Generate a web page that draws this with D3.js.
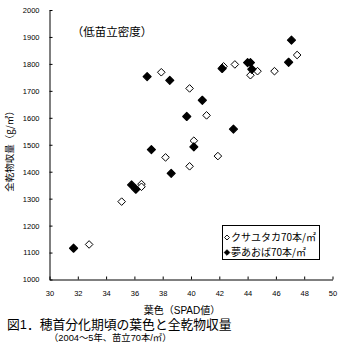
<!DOCTYPE html>
<html><head><meta charset="utf-8">
<script src="https://cdn.jsdelivr.net/npm/d3@7/dist/d3.min.js"></script>
<style>
body{margin:0;background:#fff;}
svg{display:block;}
text{fill:#000;}
</style></head>
<body>
<svg id="c" width="350" height="354"></svg>
<script>
const seriesNames = ["クサユタカ70本/㎡", "夢あおば70本/㎡"];
const kusaX = [32.8, 35.1, 36.5, 36.5, 38.2, 37.9, 39.9, 40.2, 39.9, 41.1, 41.9, 42.3, 43.1, 44.2, 44.7, 45.9, 47.5];
const kusaY = [1130, 1289, 1354, 1344, 1453, 1769, 1709, 1515, 1420, 1609, 1458, 1791, 1798, 1758, 1773, 1773, 1833];
const yumeX = [31.7, 35.8, 36.1, 37.2, 38.6, 36.9, 38.5, 39.7, 40.2, 40.8, 42.2, 43.0, 44.0, 44.2, 44.3, 46.9, 47.1];
const yumeY = [1116, 1351, 1335, 1482, 1394, 1753, 1739, 1605, 1492, 1665, 1783, 1558, 1805, 1805, 1780, 1806, 1888];
const xTicks = [30, 32, 34, 36, 38, 40, 42, 44, 46, 48, 50];
const yTicks = [1000, 1100, 1200, 1300, 1400, 1500, 1600, 1700, 1800, 1900, 2000];

const svg = d3.select("#c");
const x = d3.scaleLinear().domain([30, 50]).range([49.5, 332.5]);
const y = d3.scaleLinear().domain([1000, 2000]).range([279.5, 10]);
const numFont = "'Liberation Sans', Arial, sans-serif";
const jpFont = "'Noto Sans CJK JP', sans-serif";
const mixFont = "'Liberation Sans', 'Noto Sans CJK JP', sans-serif";

const gx = svg.append("g").attr("transform", "translate(0,279.5)")
  .call(d3.axisBottom(x).tickValues(xTicks).tickSizeInner(-3).tickSizeOuter(0).tickPadding(11).tickFormat(d3.format("d")));
const gy = svg.append("g").attr("transform", "translate(49.5,0)")
  .call(d3.axisLeft(y).tickValues(yTicks).tickSizeInner(-3).tickSizeOuter(0).tickPadding(10).tickFormat(d3.format("d")));
[gx, gy].forEach(g => {
  g.select(".domain").attr("stroke", "#000").attr("stroke-width", 1);
  g.selectAll(".tick line").attr("stroke", "#000");
  g.selectAll(".tick text").attr("font-family", numFont).attr("font-size", 7.5).attr("fill", "#000");
});

const diamond = r => `M0,${-r}L${r},0L0,${r}L${-r},0Z`;

const kusa = kusaX.map((v, i) => [v, kusaY[i]]);
const yume = yumeX.map((v, i) => [v, yumeY[i]]);

svg.append("g").selectAll("path").data(kusa).join("path")
  .attr("transform", d => `translate(${x(d[0])},${y(d[1])})`)
  .attr("d", diamond(3.8)).attr("fill", "#fff").attr("stroke", "#000").attr("stroke-width", 1)
  .attr("stroke-linejoin", "round");
svg.append("g").selectAll("path").data(yume).join("path")
  .attr("transform", d => `translate(${x(d[0])},${y(d[1])})`)
  .attr("d", diamond(4)).attr("fill", "#000").attr("stroke", "#000").attr("stroke-width", 1.2)
  .attr("stroke-linejoin", "round");

// annotation
svg.append("text").attr("x", 112).attr("y", 32).attr("dy", "0.35em").attr("text-anchor", "middle")
  .attr("font-family", jpFont).attr("font-size", 11.5).text("（低苗立密度）");

// legend
const lg = svg.append("g");
lg.append("rect").attr("x", 222.5).attr("y", 225.5).attr("width", 97).attr("height", 34)
  .attr("fill", "#fff").attr("stroke", "#000").attr("stroke-width", 1);
lg.append("path").attr("transform", "translate(227,237.5)").attr("d", diamond(2.5))
  .attr("fill", "#fff").attr("stroke", "#000").attr("stroke-width", 0.9);
lg.append("path").attr("transform", "translate(227,252.5)").attr("d", diamond(2.8))
  .attr("fill", "#000").attr("stroke", "#000").attr("stroke-width", 0.9);
lg.selectAll("text").data(seriesNames).join("text")
  .attr("x", 231).attr("y", (d, i) => 237.5 + i * 15.3).attr("dy", "0.35em")
  .attr("font-family", jpFont).attr("font-size", 10).text(d => d);

// axis titles
svg.append("text").attr("transform", "translate(10,149) rotate(-90)").attr("text-anchor", "middle")
  .attr("dy", "0.35em").attr("font-family", jpFont).attr("font-size", 9.5).text("全乾物収量（g/㎡）");
svg.append("text").attr("x", 182).attr("y", 310.5).attr("dy", "0.35em").attr("text-anchor", "middle")
  .attr("font-family", mixFont).attr("font-size", 10).text("葉色（SPAD値）");

// caption
svg.append("text").attr("x", 7).attr("y", 325).attr("dy", "0.35em")
  .attr("font-family", mixFont).attr("font-size", 12.8).text("図1．穂首分化期頃の葉色と全乾物収量");
svg.append("text").attr("x", 49).attr("y", 338).attr("dy", "0.35em")
  .attr("font-family", mixFont).attr("font-size", 9.3).text("（2004～5年、苗立70本/㎡）");
</script>
</body></html>
